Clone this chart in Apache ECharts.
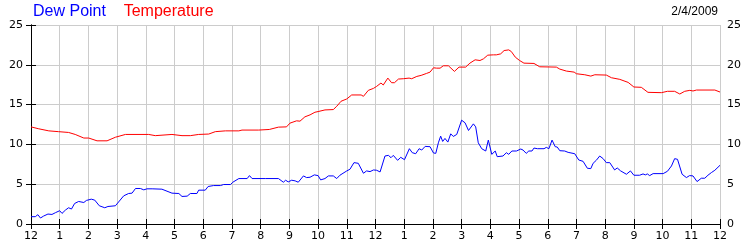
<!DOCTYPE html>
<html>
<head>
<meta charset="utf-8">
<script src="https://cdn.jsdelivr.net/npm/echarts@6/dist/echarts.min.js"></script>
<style>
html,body{margin:0;padding:0;background:#fff;}
#chart{width:750px;height:250px;}
</style>
</head>
<body>
<div id="chart"></div>
<script>
const dateLabel = '2/4/2009';
const seriesNames = ['Dew Point', 'Temperature'];
const hourTickLabels = ['12','1','2','3','4','5','6','7','8','9','10','11','12','1','2','3','4','5','6','7','8','9','10','11','12'];
const yTicks = [0, 5, 10, 15, 20, 25];

const dewHours = [0.00,0.15,0.24,0.33,0.44,0.59,0.73,0.85,1.0,1.08,1.2,1.31,1.41,1.52,1.66,1.84,1.93,2.1,2.22,2.38,2.57,2.68,2.94,3.0,3.23,3.4,3.52,3.64,3.81,3.93,4.04,4.22,4.56,4.91,5.15,5.26,5.44,5.55,5.78,5.84,6.07,6.17,6.36,6.6,6.71,6.95,7.03,7.24,7.53,7.61,7.7,8.16,8.62,8.67,8.79,8.87,8.96,9.08,9.2,9.31,9.49,9.6,9.72,9.87,10.0,10.09,10.24,10.36,10.53,10.65,10.76,11.0,11.11,11.17,11.25,11.4,11.58,11.69,11.81,11.93,12.04,12.16,12.33,12.45,12.54,12.62,12.77,12.88,13.01,13.18,13.28,13.4,13.52,13.61,13.73,13.9,14.02,14.1,14.19,14.27,14.34,14.42,14.52,14.62,14.71,14.83,15.0,15.12,15.24,15.41,15.49,15.58,15.7,15.84,15.93,16.05,16.17,16.24,16.44,16.56,16.64,16.75,16.91,17.06,17.14,17.25,17.34,17.45,17.52,17.64,17.7,17.87,17.95,18.04,18.15,18.26,18.33,18.42,18.59,18.71,18.94,19.08,19.23,19.38,19.5,19.58,19.69,19.81,19.93,20.04,20.16,20.33,20.42,20.54,20.74,20.88,21.0,21.2,21.32,21.4,21.47,21.55,21.67,22.02,22.17,22.31,22.42,22.52,22.68,22.83,22.94,23.06,23.2,23.35,23.47,23.58,23.7,23.82,24.0];
const dewPoint = [0.92,0.92,1.17,0.75,1.0,1.25,1.2,1.42,1.67,1.33,1.75,2.04,1.88,2.58,2.83,2.7,2.96,3.12,3.0,2.29,2.04,2.2,2.29,2.375,3.54,3.83,3.875,4.46,4.46,4.29,4.42,4.42,4.375,3.875,3.83,3.46,3.5,3.83,3.83,4.25,4.25,4.71,4.83,4.83,4.96,4.96,5.25,5.71,5.71,6.08,5.71,5.71,5.71,5.54,5.25,5.5,5.29,5.5,5.42,5.25,6.04,5.83,5.875,6.17,6.08,5.54,5.71,6.04,6.04,5.71,6.125,6.67,6.875,6.71,7.71,7.625,6.375,6.67,6.58,6.79,6.75,6.54,8.54,8.625,8.33,8.625,8.0,8.375,8.08,9.46,8.96,8.83,9.46,9.29,9.75,9.71,8.92,8.875,10.2,11.04,10.375,10.75,10.29,11.33,11.0,11.25,13.04,12.71,11.75,12.58,12.2,10.2,9.46,9.17,10.54,8.75,9.17,8.46,8.54,8.96,8.75,9.17,9.17,9.42,9.29,8.875,9.17,9.17,9.54,9.46,9.625,9.46,9.625,9.46,10.54,9.71,9.67,9.21,9.17,9.0,8.83,8.04,7.875,7.0,6.96,7.625,8.0,8.54,8.21,7.71,7.71,6.79,7.04,6.67,6.25,6.67,6.125,6.125,6.29,6.17,6.29,6.08,6.33,6.33,6.625,7.29,8.21,8.125,6.25,5.83,6.08,6.04,5.33,5.75,5.75,6.125,6.46,6.75,7.375];

const tempHours = [0,0.27,0.62,0.96,1.31,1.54,1.84,2.01,2.3,2.65,2.94,3.29,4.1,4.33,4.91,5.26,5.55,5.84,6.19,6.42,6.77,7.24,7.35,7.93,8.3,8.36,8.62,8.9,9.02,9.25,9.37,9.54,9.72,9.89,10.0,10.24,10.53,10.65,10.8,11.0,11.17,11.5,11.58,11.75,11.93,12.04,12.19,12.27,12.43,12.56,12.66,12.8,12.97,13.17,13.26,13.44,13.59,13.78,13.9,14.02,14.13,14.25,14.36,14.54,14.75,14.91,15.14,15.29,15.47,15.64,15.76,15.91,16.11,16.21,16.36,16.48,16.64,16.73,16.87,17.02,17.17,17.52,17.72,18.3,18.42,18.65,18.92,19.0,19.29,19.5,19.64,20.04,20.22,20.51,20.8,21.0,21.26,21.49,21.96,22.17,22.42,22.6,22.77,22.95,23.06,23.18,23.82,24.0];
const temperature = [12.2,11.96,11.7,11.6,11.5,11.25,10.8,10.8,10.45,10.45,10.9,11.25,11.25,11.1,11.25,11.1,11.1,11.25,11.3,11.6,11.7,11.7,11.8,11.8,11.875,11.96,12.17,12.2,12.67,12.96,12.92,13.46,13.71,14.04,14.125,14.33,14.375,14.79,15.42,15.71,16.21,16.21,16.04,16.79,17.04,17.29,17.71,17.46,18.33,17.75,17.75,18.21,18.25,18.33,18.25,18.54,18.67,18.92,19.08,19.625,19.58,19.58,19.875,19.875,19.17,19.71,19.71,20.21,20.625,20.54,20.75,21.21,21.25,21.25,21.375,21.79,21.875,21.67,20.96,20.54,20.21,20.17,19.75,19.71,19.46,19.21,19.08,18.875,18.75,18.58,18.75,18.71,18.375,18.17,17.79,17.21,17.17,16.54,16.5,16.67,16.67,16.33,16.67,16.79,16.71,16.83,16.83,16.58];

const pairs = (xs, ys) => xs.map((x, i) => [x, ys[i]]);
const yMin = yTicks[0], yMax = yTicks[yTicks.length - 1], yStep = yTicks[1] - yTicks[0];
const xMax = hourTickLabels.length - 1;

const chart = echarts.init(document.getElementById('chart'), null, {renderer: 'canvas'});
const tickFont = {fontFamily: 'DejaVu Sans', fontSize: 11, color: '#000'};
const axisLineStyle = {show: true, lineStyle: {color: '#000', width: 1}};
const tick = {show: true, inside: true, length: 5, lineStyle: {color: '#000', width: 1}};

chart.setOption({
  animation: false,
  backgroundColor: '#fff',
  title: [{
    text: '{a|' + seriesNames[0] + '}    {b|' + seriesNames[1] + '}',
    left: 33, top: 4, padding: 0,
    textStyle: {
      fontWeight: 'normal', fontFamily: 'Liberation Sans', fontSize: 16,
      rich: {
        a: {color: '#0000ff', fontFamily: 'Liberation Sans', fontSize: 16, fontWeight: 'normal'},
        b: {color: '#ff0000', fontFamily: 'Liberation Sans', fontSize: 16, fontWeight: 'normal'}
      }
    }
  }, {
    text: dateLabel,
    right: 32, top: 6, padding: 0,
    textStyle: {color: '#000', fontFamily: 'Liberation Sans', fontSize: 12, fontWeight: 'normal'}
  }],
  grid: {left: 31, right: 30, top: 25, bottom: 26, containLabel: false},
  xAxis: [{
    type: 'value', min: 0, max: xMax, interval: 1, position: 'bottom',
    axisLine: axisLineStyle, axisTick: tick,
    axisLabel: Object.assign({margin: 7, formatter: v => hourTickLabels[Math.round(v)]}, tickFont),
    splitLine: {show: true, lineStyle: {color: '#cccccc', width: 1}}
  }, {
    type: 'value', min: 0, max: xMax, interval: 1, position: 'top',
    axisLine: axisLineStyle, axisTick: tick, axisLabel: {show: false}, splitLine: {show: false}
  }],
  yAxis: [{
    type: 'value', min: yMin, max: yMax, interval: yStep, position: 'left',
    axisLine: axisLineStyle, axisTick: tick,
    axisLabel: Object.assign({margin: 8}, tickFont),
    splitLine: {show: true, lineStyle: {color: '#cccccc', width: 1}}
  }, {
    type: 'value', min: yMin, max: yMax, interval: yStep, position: 'right',
    axisLine: axisLineStyle, axisTick: tick,
    axisLabel: Object.assign({margin: 7}, tickFont),
    splitLine: {show: false}
  }],
  series: [{
    name: seriesNames[0], type: 'line', xAxisIndex: 0, yAxisIndex: 0,
    data: pairs(dewHours, dewPoint), showSymbol: false, symbol: 'none',
    lineStyle: {color: '#0000ff', width: 1}, itemStyle: {color: '#0000ff'}
  }, {
    name: seriesNames[1], type: 'line', xAxisIndex: 0, yAxisIndex: 0,
    data: pairs(tempHours, temperature), showSymbol: false, symbol: 'none',
    lineStyle: {color: '#ff0000', width: 1}, itemStyle: {color: '#ff0000'}
  }]
});
</script>
</body>
</html>
